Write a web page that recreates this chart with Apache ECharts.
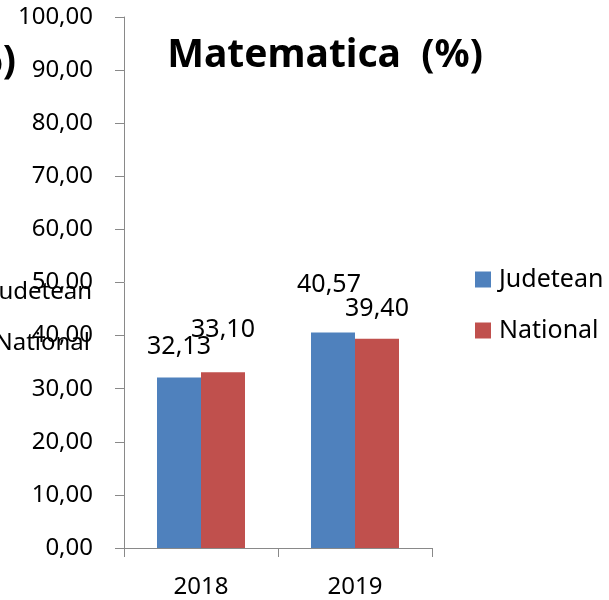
<!DOCTYPE html>
<html>
<head>
<meta charset="utf-8">
<script src="https://cdn.jsdelivr.net/npm/echarts@6/dist/echarts.min.js"></script>
<style>
  html, body { margin: 0; padding: 0; background: #fff; }
  #chart { width: 609px; height: 600px; }
</style>
</head>
<body>
<div id="chart"></div>
<script>
// 数据
const categories = ['2018', '2019']
const judetean = [32.13, 40.57]
const national = [33.10, 39.40]
const seriesNames = ['Judetean', 'National']

// 标签偏移（仅样式）
const judeteanLabelOffset = [[0, -18], [-4, -35]]
const nationalLabelOffset = [[0, -30], [0, -17]]

const FONT = "'Noto Sans', 'Open Sans', sans-serif"
const fmt = v => Number(v).toFixed(2).replace('.', ',')

const chart = echarts.init(document.getElementById('chart'))

const makeSeries = (name, values, offsets, color) => ({
  name,
  type: 'bar',
  barWidth: 44,
  barGap: '0%',
  itemStyle: { color },
  label: {
    show: true,
    position: 'top',
    distance: 0,
    color: '#000',
    fontSize: 25,
    fontFamily: FONT,
    formatter: p => fmt(p.value)
  },
  data: values.map((v, i) => ({ value: v, label: { offset: offsets[i] } }))
})

const option = {
  animation: false,
  grid: { left: 124, right: 177, top: 17, bottom: 52 },
  legend: {
    orient: 'vertical',
    left: 475,
    top: 267,
    padding: 0,
    itemWidth: 16,
    itemHeight: 16,
    itemGap: 26,
    icon: 'rect',
    textStyle: { color: '#000', fontSize: 25, fontFamily: FONT, padding: [0, 0, 0, 3] },
    data: seriesNames
  },
  xAxis: {
    type: 'category',
    data: categories,
    axisLine: { lineStyle: { color: '#898989', width: 1 } },
    axisTick: { show: true, length: 9, lineStyle: { color: '#898989' } },
    axisLabel: { color: '#000', fontSize: 24, fontFamily: FONT, margin: 27 }
  },
  yAxis: {
    type: 'value',
    min: 0,
    max: 100,
    interval: 10,
    axisLine: { show: true, lineStyle: { color: '#898989', width: 1 } },
    axisTick: { show: true, length: 9, lineStyle: { color: '#898989' } },
    splitLine: { show: false },
    axisLabel: { color: '#000', fontSize: 24, fontFamily: FONT, margin: 31, formatter: fmt }
  },
  graphic: [
    {
      type: 'text', x: 325, y: 56,
      style: { text: 'Matematica  (%)', font: `bold 39px ${FONT}`, fill: '#000', align: 'center', verticalAlign: 'middle' }
    },
    // 左侧被遮挡的残留文字
    {
      type: 'text', x: 16, y: 62,
      style: { text: '(%)', font: `bold 39px ${FONT}`, fill: '#000', align: 'right', verticalAlign: 'middle' }
    },
    {
      type: 'text', x: 92, y: 292,
      style: { text: 'Judetean', font: `24px ${FONT}`, fill: '#000', align: 'right', verticalAlign: 'middle' }
    },
    {
      type: 'text', x: 90, y: 343,
      style: { text: 'National', font: `24px ${FONT}`, fill: '#000', align: 'right', verticalAlign: 'middle' }
    }
  ],
  series: [
    makeSeries(seriesNames[0], judetean, judeteanLabelOffset, '#4F81BD'),
    makeSeries(seriesNames[1], national, nationalLabelOffset, '#C0504D')
  ]
}

chart.setOption(option)
</script>
</body>
</html>
